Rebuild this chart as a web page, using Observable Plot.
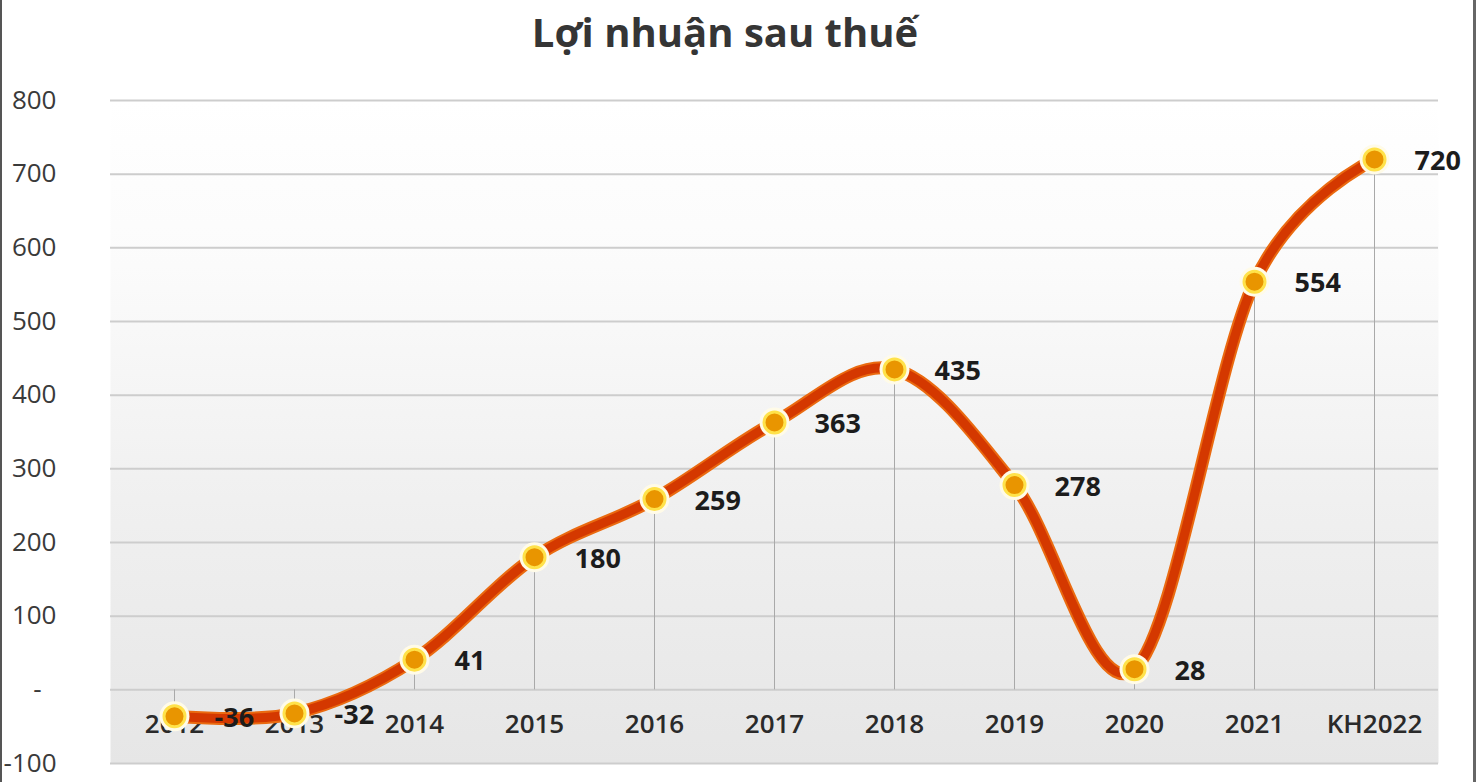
<!DOCTYPE html>
<html>
<head>
<meta charset="utf-8">
<script src="https://cdn.jsdelivr.net/npm/d3@7"></script>
<script src="https://cdn.jsdelivr.net/npm/@observablehq/plot@0.6"></script>
<style>
  html, body { margin: 0; padding: 0; background: #fff; }
  #wrap { position: relative; width: 1476px; height: 782px; overflow: hidden; }
  #title { position: absolute; top: 6px; left: 0; width: 1450px; text-align: center;
    font-family: "Open Sans", sans-serif; font-weight: 700; font-size: 40px; line-height: 52px; color: #353535; }
  #bl { position: absolute; left: 0; top: 0; width: 2px; height: 782px; background: #555; }
  #br { position: absolute; left: 1473px; top: 0; width: 3px; height: 782px; background: #666; }
</style>
</head>
<body>
<div id="wrap">
  <div id="chart"></div>
  <div id="title">Lợi nhuận sau thuế</div>
  <div id="bl"></div>
  <div id="br"></div>
</div>
<script>
const categories = ["2012", "2013", "2014", "2015", "2016", "2017", "2018", "2019", "2020", "2021", "KH2022"];
const profit = [-36, -32, 41, 180, 259, 363, 435, 278, 28, 554, 720];
const yTicks = [-100, 0, 100, 200, 300, 400, 500, 600, 700, 800];

const data = categories.map((c, i) => ({cat: c, value: profit[i]}));
const font = "'Open Sans', sans-serif";

const chart = Plot.plot({
  width: 1476,
  height: 782,
  marginLeft: 110,
  marginRight: 38,
  marginTop: 100,
  marginBottom: 19,
  style: {fontFamily: font, background: "transparent"},
  x: {type: "point", domain: categories, padding: 0.5, axis: null},
  y: {domain: [-100, 800], axis: null},
  marks: [
    Plot.frame({fill: "url(#bgGrad)", stroke: "none"}),
    Plot.ruleY(yTicks, {stroke: "#cdcdcd", strokeWidth: 2}),
    Plot.ruleX(data, {x: "cat", y1: 0, y2: "value", stroke: "#a9a9a9", strokeWidth: 1}),
    Plot.axisY({ticks: yTicks, tickSize: 0, tickPadding: 54, fontSize: 26, fill: "#3a3a3a", label: null,
      tickFormat: d => d === 0 ? "-\u2007" : String(d)}),
    Plot.text(categories, {x: d => d, frameAnchor: "bottom", dy: -31, fontSize: 26, fill: "#2a2a2a", fontWeight: 600}),
    Plot.line(data, {x: "cat", y: "value", curve: "cardinal", stroke: "#ea6a10", strokeWidth: 13}),
    Plot.line(data, {x: "cat", y: "value", curve: "cardinal", stroke: "#d43800", strokeWidth: 9}),
    Plot.dot(data, {x: "cat", y: "value", r: 15, fill: "#fffbe8", stroke: "none"}),
    Plot.dot(data, {x: "cat", y: "value", r: 10.5, fill: "#e99500", stroke: "#ffe24a", strokeWidth: 3}),
    Plot.text(data, {x: "cat", y: "value", text: d => String(d.value), textAnchor: "start", dx: 40, dy: 2,
      fontSize: 27, fontWeight: 700, fill: "#1c1c1c"})
  ]
});

const svg = d3.select(chart);
const defs = svg.insert("defs", ":first-child");
const g = defs.append("linearGradient").attr("id", "bgGrad").attr("x1", 0).attr("y1", 0).attr("x2", 0).attr("y2", 1);
g.append("stop").attr("offset", "0%").attr("stop-color", "#ffffff");
g.append("stop").attr("offset", "25%").attr("stop-color", "#fbfbfb");
g.append("stop").attr("offset", "60%").attr("stop-color", "#f0f0f0");
g.append("stop").attr("offset", "100%").attr("stop-color", "#e6e6e6");

document.getElementById("chart").appendChild(chart);
</script>
</body>
</html>
